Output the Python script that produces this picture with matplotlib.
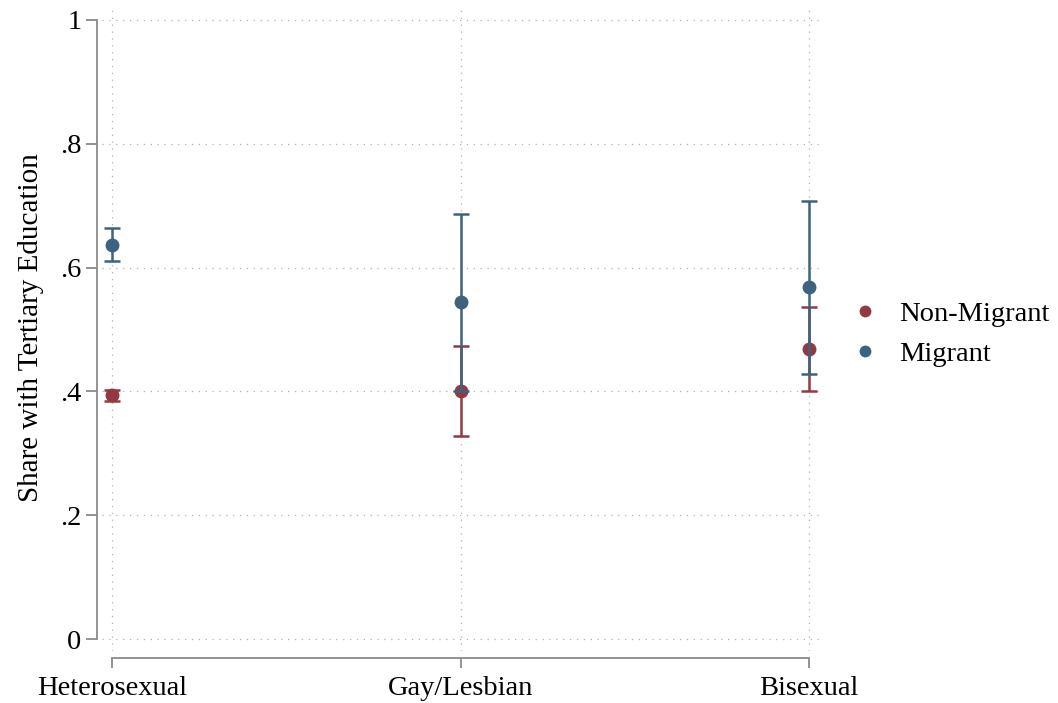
import matplotlib
matplotlib.use("Agg")
import matplotlib.pyplot as plt
from matplotlib.lines import Line2D

# ── data ────────────────────────────────────────────────────────────────
categories = ["Heterosexual", "Gay/Lesbian", "Bisexual"]

nonmig_mean = [0.394, 0.400, 0.468]
nonmig_lo = [0.385, 0.328, 0.400]
nonmig_hi = [0.403, 0.473, 0.536]

mig_mean = [0.636, 0.544, 0.568]
mig_lo = [0.610, 0.401, 0.428]
mig_hi = [0.664, 0.687, 0.708]

y_ticks = [0, 0.2, 0.4, 0.6, 0.8, 1.0]
y_ticklabels = ["0", ".2", ".4", ".6", ".8", "1"]

RED = "#913A41"
BLUE = "#3D6381"
AXIS = "#8a8a8a"
FS = 20.5

plt.rcParams["font.family"] = ["Liberation Serif", "DejaVu Serif"]

fig = plt.figure(figsize=(10.58, 7.03), dpi=100)
ax = fig.add_axes([0.0965, 0.074, 0.6804, 0.9189])

x = list(range(1, len(categories) + 1))

for mean, lo, hi, color, z in [
    (nonmig_mean, nonmig_lo, nonmig_hi, RED, 3),
    (mig_mean, mig_lo, mig_hi, BLUE, 4),
]:
    err = [[m - l for m, l in zip(mean, lo)], [h - m for m, h in zip(mean, hi)]]
    ax.errorbar(x, mean, yerr=err, fmt="o", color=color, ecolor=color,
                markersize=9, elinewidth=1.8, capsize=5.5, capthick=1.8,
                zorder=z)

ax.set_xlim(0.9716, 3.037)
ax.set_ylim(-0.019, 1.024)

ax.set_xticks(x)
ax.set_xticklabels(categories)
ax.set_yticks(y_ticks)
ax.set_yticklabels(y_ticklabels)

# grid
ax.grid(True, color="#b0b0b0", linestyle=(0, (1, 4.5)), linewidth=0.9)
ax.set_axisbelow(True)

# Stata-like axes
for s in ["top", "right"]:
    ax.spines[s].set_visible(False)
ax.spines["left"].set_position(("outward", 4))
ax.spines["bottom"].set_position(("outward", 5))
ax.spines["left"].set_bounds(0, 1)
ax.spines["bottom"].set_bounds(1, 3)
for s in ["left", "bottom"]:
    ax.spines[s].set_color(AXIS)
    ax.spines[s].set_linewidth(1.3)
ax.tick_params(axis="y", length=8, width=1.3, color=AXIS, pad=3, labelsize=FS)
ax.tick_params(axis="x", length=7, width=1.3, color=AXIS, pad=6, labelsize=FS)

ax.set_ylabel("Share with Tertiary Education", fontsize=21, labelpad=11)

handles = [
    Line2D([], [], marker="o", linestyle="none", color=RED, markersize=7.5),
    Line2D([], [], marker="o", linestyle="none", color=BLUE, markersize=7.5),
]
ax.legend(handles, ["Non-Migrant", "Migrant"], loc="center left",
          bbox_to_anchor=(1.004, 0.491), frameon=False, fontsize=FS,
          handlelength=1.0, handletextpad=0.7, labelspacing=0.5)

fig.savefig("out.png", dpi=100)
